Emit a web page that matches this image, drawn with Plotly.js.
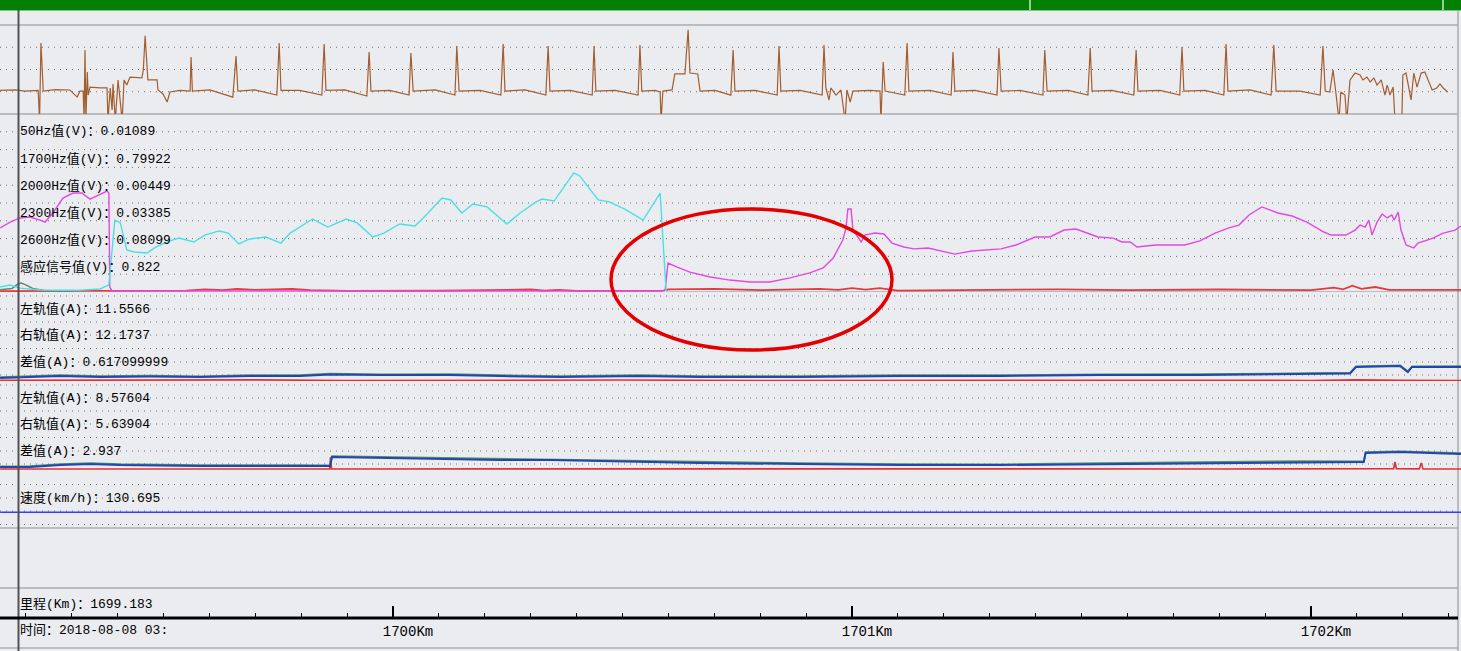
<!DOCTYPE html>
<html>
<head>
<meta charset="utf-8">
<script src="https://cdn.plot.ly/plotly-3.0.1.min.js"></script>
<style>
html,body{margin:0;padding:0;background:#EBECF0;}
#chart{width:1461px;height:651px;}
</style>
</head>
<body>
<div id="chart"></div>
<script>
// ---------- DATA ----------
// top panel waveform (km, signal units)
const wfKm = [1699.144,1699.177,1699.198,1699.227,1699.230,1699.233,1699.238,1699.264,1699.296,1699.312,1699.318,1699.325,1699.327,1699.329,1699.331,1699.334,1699.336,1699.340,1699.362,1699.377,1699.379,1699.384,1699.388,1699.390,1699.395,1699.401,1699.410,1699.414,1699.420,1699.427,1699.453,1699.456,1699.460,1699.464,1699.466,1699.486,1699.488,1699.499,1699.508,1699.514,1699.536,1699.558,1699.560,1699.563,1699.601,1699.651,1699.658,1699.662,1699.699,1699.747,1699.752,1699.756,1699.797,1699.845,1699.850,1699.854,1699.895,1699.943,1699.948,1699.952,1699.993,1700.035,1700.039,1700.044,1700.092,1700.135,1700.139,1700.144,1700.190,1700.235,1700.240,1700.244,1700.288,1700.333,1700.338,1700.342,1700.386,1700.434,1700.438,1700.442,1700.484,1700.534,1700.538,1700.542,1700.571,1700.582,1700.584,1700.588,1700.608,1700.614,1700.636,1700.643,1700.647,1700.664,1700.669,1700.702,1700.736,1700.741,1700.745,1700.789,1700.837,1700.841,1700.845,1700.887,1700.935,1700.939,1700.943,1700.950,1700.954,1700.965,1700.976,1700.985,1700.989,1700.996,1701.002,1701.039,1701.061,1701.063,1701.068,1701.072,1701.115,1701.120,1701.124,1701.170,1701.216,1701.220,1701.224,1701.268,1701.316,1701.320,1701.325,1701.366,1701.416,1701.420,1701.425,1701.471,1701.514,1701.519,1701.523,1701.566,1701.614,1701.619,1701.623,1701.671,1701.714,1701.719,1701.723,1701.769,1701.810,1701.815,1701.819,1701.867,1701.913,1701.919,1701.924,1701.976,1702.020,1702.026,1702.031,1702.041,1702.048,1702.054,1702.061,1702.065,1702.074,1702.078,1702.085,1702.096,1702.107,1702.113,1702.122,1702.129,1702.137,1702.144,1702.153,1702.161,1702.166,1702.172,1702.179,1702.183,1702.198,1702.200,1702.207,1702.218,1702.224,1702.231,1702.240,1702.248,1702.255,1702.264,1702.274,1702.281,1702.288,1702.298];
const wfVal = [0.06,0.08,0.03,0.06,-1.3,2.19,0.03,0.1,0.08,-0.24,0.03,0.03,-1.3,1.88,-1.3,0.89,-0.15,0.21,0.17,0.17,-1.3,0.17,-0.82,0.35,-1.3,0.53,-1.3,0.53,0.30,0.66,0.62,0.98,2.51,0.98,0.53,0.53,0.08,-0.10,-0.46,-0.01,0.06,0.03,1.56,0.03,0.08,-0.24,1.61,0.03,0.08,-0.15,2.19,0.06,0.06,-0.15,2.15,0.06,0.08,-0.19,1.79,0.03,0.06,-0.15,1.74,0.03,0.08,-0.15,2.06,0.03,0.06,-0.15,2.15,0.03,0.08,-0.15,2.06,0.03,0.06,-0.15,2.06,0.03,0.06,-0.15,2.10,0.03,0.06,-0.01,-1.3,0.03,0.08,0.80,0.80,2.78,0.84,0.80,0.03,0.06,-0.15,1.88,0.03,0.06,-0.15,2.06,0.03,0.06,-0.15,2.10,0.17,-0.37,0.17,-0.15,0.08,-1.3,0.08,-0.46,0.03,0.06,0.03,-1.3,1.34,0.03,-0.15,2.19,0.03,0.06,-0.15,1.79,0.03,0.06,-0.15,1.97,0.03,0.06,-0.15,1.88,0.03,0.06,-0.15,1.97,0.03,0.06,-0.15,1.88,0.03,0.06,-0.15,2.01,0.03,0.06,-0.15,2.15,0.03,0.08,-0.15,2.10,0.03,0.03,-0.15,2.06,0.03,-0.01,0.98,-0.01,-1.3,-0.01,-0.15,-1.3,0.53,0.84,0.75,0.53,0.66,0.44,0.62,0.30,0.53,-0.15,0.30,-0.15,0.21,-1.3,-1.3,0.75,0.84,-0.37,0.84,0.21,0.84,0.89,0.53,0.08,0.17,0.35,0.17,-0.01];

// panel 2: frequency values (V, scaled)
const cyanKm = [1699.144,1699.166,1699.187,1699.231,1699.275,1699.318,1699.362,1699.373,1699.381,1699.394,1699.406,1699.420,1699.436,1699.464,1699.484,1699.514,1699.534,1699.566,1699.590,1699.621,1699.641,1699.664,1699.688,1699.723,1699.756,1699.776,1699.825,1699.858,1699.898,1699.922,1699.956,1699.980,1700.015,1700.048,1700.068,1700.107,1700.126,1700.150,1700.174,1700.205,1700.248,1700.277,1700.312,1700.325,1700.351,1700.394,1700.407,1700.447,1700.471,1700.505,1700.545,1700.582,1700.591,1700.595];
const cyanVal = [0.28,0.39,0.22,0.11,0.10,0.10,0.17,0.28,0.40,4.04,3.88,2.36,2.25,2.19,2.53,2.87,3.03,2.81,3.20,3.43,3.31,2.70,2.98,3.09,2.75,3.31,4.10,3.65,4.10,3.88,3.09,3.31,3.82,3.71,4.21,5.28,5.17,4.44,4.94,4.78,3.82,4.44,5.06,5.22,5.11,6.69,6.52,5.17,5.06,4.66,4.04,5.56,1.63,0.06];

const magKm = [1699.144,1699.166,1699.187,1699.209,1699.231,1699.242,1699.259,1699.281,1699.303,1699.322,1699.340,1699.366,1699.377,1699.381,1699.383,1699.388,1700.586,1700.593,1700.599,1700.619,1700.647,1700.691,1700.734,1700.778,1700.821,1700.865,1700.908,1700.937,1700.959,1700.980,1700.987,1700.991,1700.998,1701.002,1701.011,1701.020,1701.028,1701.050,1701.070,1701.087,1701.113,1701.135,1701.166,1701.198,1701.224,1701.261,1701.325,1701.357,1701.399,1701.431,1701.462,1701.488,1701.514,1701.536,1701.569,1701.588,1701.606,1701.621,1701.662,1701.725,1701.758,1701.791,1701.821,1701.843,1701.865,1701.893,1701.928,1701.959,1701.991,1702.028,1702.044,1702.076,1702.096,1702.107,1702.118,1702.126,1702.133,1702.144,1702.155,1702.166,1702.176,1702.181,1702.190,1702.196,1702.207,1702.224,1702.233,1702.266,1702.288,1702.314,1702.327];
const magVal = [3.60,3.93,4.16,4.21,4.04,3.93,4.44,5.28,5.56,5.56,5.22,5.56,5.67,5.56,0.28,0.06,0.06,0.11,1.63,1.40,1.12,0.84,0.67,0.56,0.56,0.79,1.07,1.35,1.91,2.92,3.60,4.66,4.66,3.48,3.15,2.81,3.20,3.31,3.26,2.75,2.53,2.42,2.47,2.30,2.13,2.30,2.42,2.64,3.09,3.09,3.48,3.54,3.31,3.09,3.03,2.81,2.81,2.53,2.64,2.64,2.87,3.31,3.60,3.76,4.33,4.78,4.44,4.27,3.93,3.37,3.20,3.20,3.48,3.76,3.65,4.04,3.20,3.93,4.38,4.16,4.33,4.04,4.49,3.48,2.64,2.47,2.75,3.03,3.31,3.48,3.71];

const redKm = [1699.144,1699.300,1699.550,1699.590,1699.630,1699.660,1699.700,1699.780,1699.820,1699.900,1700.100,1700.300,1700.330,1700.360,1700.400,1700.590,1700.600,1700.700,1700.800,1700.930,1700.970,1701.000,1701.030,1701.060,1701.100,1701.300,1701.450,1701.600,1701.800,1702.000,1702.050,1702.070,1702.090,1702.110,1702.140,1702.170,1702.250,1702.327];
const redVal = [0.05,0.05,0.08,0.15,0.10,0.18,0.12,0.17,0.10,0.06,0.07,0.14,0.08,0.12,0.06,0.08,0.15,0.17,0.10,0.18,0.12,0.22,0.13,0.22,0.08,0.12,0.15,0.10,0.14,0.10,0.25,0.15,0.35,0.18,0.28,0.12,0.10,0.12];

const baseKm = [1700.595,1702.327];
const baseVal = [0.0,0.0];

const grnKm = [1699.144,1699.170,1699.183,1699.190,1699.200,1699.215,1699.240,1699.300];
const grnVal = [0.12,0.20,0.45,0.50,0.40,0.20,0.08,0.05];

// panel 3: track circuit 1 (A)
const r1Km = [1699.144,1699.209,1699.275,1699.362,1699.471,1699.580,1699.688,1699.797,1699.863,1699.972,1700.124,1700.233,1700.364,1700.538,1700.669,1700.887,1701.105,1701.322,1701.540,1701.758,1701.976,1702.085,1702.098,1702.194,1702.211,1702.220,1702.327];
const r1Right = [6.7,9.0,11.2,9.0,10.1,9.0,11.2,11.2,14.6,13.5,13.5,11.2,9.0,11.2,9.0,9.0,11.2,11.2,13.5,13.5,15.7,16.9,31.5,33.7,20.2,31.5,31.5];
const r1Left = [8.5,10.8,13.0,11.0,12.0,10.5,13.0,13.2,16.5,15.0,15.2,13.0,11.0,13.0,10.8,10.8,13.0,13.0,15.0,15.2,17.5,18.5,33.0,35.0,22.0,33.0,33.2];
const d1Km = [1699.144,1699.300,1699.500,1699.700,1699.900,1700.200,1700.500,1700.800,1701.100,1701.400,1701.700,1702.000,1702.100,1702.200,1702.327];
const d1Val = [1.5,2.0,1.2,2.5,1.0,1.5,2.2,1.0,1.5,1.0,1.8,1.2,2.5,1.5,1.2];

// panel 4: track circuit 2 (A)
const r2Km = [1699.144,1699.209,1699.275,1699.340,1699.405,1699.580,1699.797,1699.863,1699.867,1699.928,1700.015,1700.124,1700.233,1700.342,1700.451,1700.560,1700.669,1700.887,1701.105,1701.322,1701.540,1701.758,1701.976,1702.115,1702.119,1702.194,1702.259,1702.327];
const r2Right = [6.7,6.7,11.2,13.5,11.2,9.0,9.0,9.0,29.2,28.1,27.0,24.7,22.5,22.5,20.2,18.0,15.7,13.5,11.2,11.2,13.5,15.7,18.0,18.0,38.2,40.4,38.2,36.0];
const r2Left = [8.0,8.5,13.0,15.5,13.0,11.0,10.8,10.5,31.0,30.0,29.0,26.5,24.5,24.0,22.0,20.0,17.5,15.2,13.0,12.8,15.2,17.5,19.8,19.5,40.0,42.0,40.0,37.8];
const d2Km = [1699.144,1699.500,1699.862,1699.864,1699.866,1700.200,1700.600,1701.000,1701.400,1701.800,1702.100,1702.180,1702.183,1702.186,1702.236,1702.240,1702.244,1702.327];
const d2Val = [2.2,2.5,2.2,29.0,2.2,2.5,3.0,2.2,2.5,2.2,2.5,3.0,18.0,3.0,2.5,16.0,2.5,2.2];

// panel 5: speed (km/h)
const spdKm = [1699.144,1702.327];
const spdVal = [130.695,130.695];

// label texts
const labels = [
  ["50Hz值(V)：0.01089",131],["1700Hz值(V)：0.79922",159],["2000Hz值(V)：0.00449",186],
  ["2300Hz值(V)：0.03385",213],["2600Hz值(V)：0.08099",240],["感应信号值(V)：0.822",267],
  ["左轨值(A)：11.5566",309],["右轨值(A)：12.1737",335],["差值(A)：0.617099999",362],
  ["左轨值(A)：8.57604",398],["右轨值(A)：5.63904",424],["差值(A)：2.937",451],
  ["速度(km/h)：130.695",498],["里程(Km)：1699.183",604],["时间：2018-08-08 03:",630]
];

// ---------- LAYOUT HELPERS ----------
const H = 651, W = 1461;
const py = p => 1 - p / H;
const px = p => p / W;
const FONT = "'Liberation Mono', 'Noto Sans CJK SC', monospace";

function ln(x, y, name, ax, color, width) {
  return {type:'scatter', mode:'lines', x:x, y:y, name:name, xaxis:'x', yaxis:ax,
          line:{color:color, width:width}, hoverinfo:'skip', showlegend:false};
}

const traces = [
  ln(wfKm, wfVal, '波形', 'y', '#A35E2F', 1.2),
  ln(baseKm, baseVal, '感应信号', 'y2', '#6A98A8', 1.2),
  ln(redKm, redVal, '50Hz', 'y2', '#E8383C', 1.8),
  ln(grnKm, grnVal, '2000Hz', 'y2', '#5F8C6C', 1.5),
  ln(magKm, magVal, '2300Hz', 'y2', '#E448E4', 1.4),
  ln(cyanKm, cyanVal, '2600Hz', 'y2', '#48E0E6', 1.4),
  ln(d1Km, d1Val, '差值', 'y3', '#E03236', 1.6),
  ln(r1Km, r1Left, '左轨值', 'y3', '#4E9A5E', 1.8),
  ln(r1Km, r1Right, '右轨值', 'y3', '#2444B4', 2.0),
  ln(d2Km, d2Val, '差值', 'y4', '#E03236', 1.6),
  ln(r2Km, r2Left, '左轨值', 'y4', '#4E9A5E', 1.8),
  ln(r2Km, r2Right, '右轨值', 'y4', '#2444B4', 2.0),
  ln(spdKm, spdVal, '速度', 'y5', '#3C3CF2', 1.6)
];

const shapes = [];
function hline(y, color, width, dash, layer) {
  shapes.push({type:'line', xref:'paper', yref:'paper', x0:0, x1:px(1458), y0:py(y), y1:py(y),
    line:{color:color, width:width, dash:dash||'solid'}, layer:layer||'below'});
}
// solid separators
[25,114,528,588,648].forEach(y => hline(y, '#8A8C90', 1.2));
// dotted grid
const dotted = [47.25,69.5,91.75,
  131.8,149.6,167.4,185.2,203,220.8,238.6,256.4,274.2,
  296,309,322,335,348.5,362,375,
  385,398,411,424,437.5,451,464,
  484.5,498,511,524.5];
dotted.forEach(y => hline(y, '#6A6C70', 1, '1px,5px'));
// green header bar
shapes.push({type:'rect', xref:'paper', yref:'paper', x0:0, x1:1, y0:py(10), y1:1,
  fillcolor:'#038003', line:{width:0}, layer:'above'});
shapes.push({type:'line', xref:'paper', yref:'paper', x0:0, x1:1, y0:py(10.5), y1:py(10.5),
  line:{color:'#7CC47C', width:1}, layer:'above'});
[1030,1443].forEach(x => shapes.push({type:'line', xref:'paper', yref:'paper', x0:px(x), x1:px(x), y0:py(10), y1:1,
  line:{color:'#FFFFFF', width:1.2}, layer:'above'}));
// vertical borders
shapes.push({type:'line', xref:'paper', yref:'paper', x0:px(18.5), x1:px(18.5), y0:0, y1:py(10),
  line:{color:'#505255', width:2}, layer:'above'});
shapes.push({type:'line', xref:'paper', yref:'paper', x0:px(1458), x1:px(1458), y0:0, y1:py(10),
  line:{color:'#9A9CA0', width:1.2}, layer:'below'});
// km axis line
shapes.push({type:'line', xref:'paper', yref:'paper', x0:0, x1:px(1458), y0:py(618), y1:py(618),
  line:{color:'#000000', width:3}, layer:'above'});
// red ellipse annotation
shapes.push({type:'circle', xref:'paper', yref:'paper', x0:px(611), x1:px(892), y0:py(350), y1:py(209),
  line:{color:'#E30000', width:3.5}, layer:'above'});

const annotations = labels.map(l => ({
  text:l[0], xref:'paper', yref:'paper', x:px(18), y:py(l[1]), xanchor:'left', yanchor:'middle',
  showarrow:false, font:{family:FONT, size:13, color:'#000'}
}));

function yax(top, bottom, range) {
  return {domain:[py(bottom), py(top)], range:range, visible:false, fixedrange:true,
          showgrid:false, zeroline:false};
}

const layout = {
  width:W, height:H,
  margin:{l:0, r:0, t:0, b:0, pad:0},
  paper_bgcolor:'#EBECF0', plot_bgcolor:'rgba(0,0,0,0)',
  showlegend:false,
  xaxis:{domain:[0,1], range:[1699.1438, 1702.3268], anchor:'free', position:py(618),
    showgrid:false, zeroline:false, showline:false, fixedrange:true,
    ticks:'inside', ticklen:12, tickwidth:2, tickcolor:'#000',
    tick0:1700, dtick:1, ticksuffix:'Km', tickformat:'d', ticklabelstandoff:3, ticklabelshift:15,
    tickfont:{family:FONT, size:14, color:'#000'},
    minor:{dtick:0.1, ticks:'inside', ticklen:5, tickwidth:1, tickcolor:'#000', showgrid:false}},
  yaxis:yax(25,114,[-1,3]),
  yaxis2:yax(114,292,[0,10]),
  yaxis3:yax(292,381,[0,200]),
  yaxis4:yax(381,470,[0,200]),
  yaxis5:yax(470,528,[0,480]),
  shapes:shapes,
  annotations:annotations
};

Plotly.newPlot('chart', traces, layout, {staticPlot:true, displayModeBar:false});
</script>
</body>
</html>
